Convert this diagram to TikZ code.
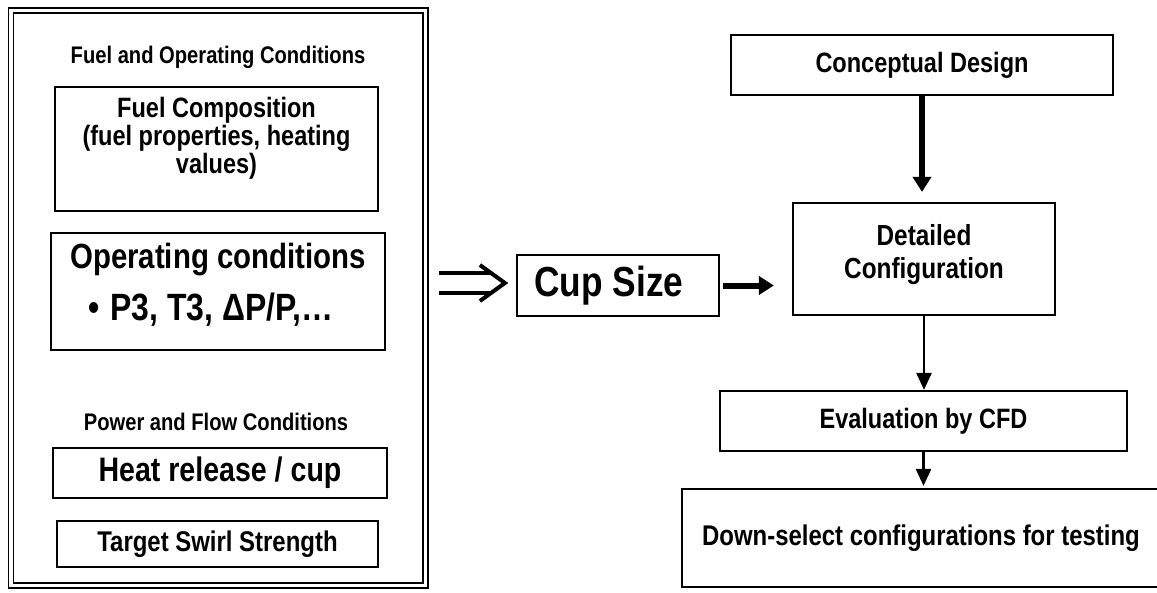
\documentclass[tikz,border=0pt]{standalone}
\usepackage{fontspec}
\setmainfont[FakeStretch=0.84,UprightFont={* Bold}]{Liberation Sans}
\usetikzlibrary{arrows.meta}

\begin{document}
\begin{tikzpicture}[x=1pt,y=-1pt]
\tikzstyle{box} = [draw, line width=2.2pt, inner sep=0pt, align=center]
\tikzstyle{heading} = [font=\fontsize{24}{26}\selectfont]
\tikzstyle{bigarrow} = [line width=6pt, -{Triangle[width=18pt,length=15pt]}]
\tikzstyle{thinarrow} = [line width=2.5pt, -{Triangle[width=15pt,length=17pt]}]
\useasboundingbox (0,0) rectangle (1157,592);

% left panel: inputs
\node[draw, line width=1.5pt, double, double distance=3.5pt,
      minimum width=414.5pt, minimum height=575pt] (panel) at (218.25,298) {};
\node[heading] (fuelhead) at (218,57) {Fuel and Operating Conditions};
\node[box, minimum width=323pt, minimum height=124pt, text depth=28pt,
      font=\fontsize{28}{28}\selectfont] (fuelcomp) at (216.5,149)
    {Fuel Composition\\(fuel properties, heating\\values)};
\node[box, minimum width=334pt, minimum height=117pt, text depth=20pt,
      font=\fontsize{35}{52}\selectfont] (opcond) at (218,291.5)
    {Operating conditions\\{\fontsize{38}{52}\selectfont •\hspace{11pt}P3, T3, ΔP/P,…\hspace*{14pt}}};
\node[heading] (powerhead) at (216,422) {Power and Flow Conditions};
\node[box, minimum width=334pt, minimum height=50pt,
      font=\fontsize{34}{36}\selectfont] (heat) at (220,473) {Heat release / cup};
\node[box, minimum width=321pt, minimum height=46pt,
      font=\fontsize{28.5}{30}\selectfont] (swirl) at (217.5,544) {Target Swirl Strength};

% right side: design flow
\node[box, minimum width=202pt, minimum height=61pt,
      font=\fontsize{42}{44}\selectfont] (cup) at (618,285.5) {Cup Size\hspace*{18pt}};
\node[box, minimum width=382pt, minimum height=60pt,
      font=\fontsize{28}{30}\selectfont] (concept) at (922,65) {Conceptual Design};
\node[box, minimum width=262pt, minimum height=112pt, text depth=16pt,
      font=\fontsize{29}{33}\selectfont] (detail) at (924,259) {Detailed\\Configuration};
\node[box, minimum width=407pt, minimum height=60pt,
      font=\fontsize{28}{30}\selectfont] (eval) at (923.5,421) {Evaluation by CFD};
\node[box, minimum width=478pt, minimum height=98pt,
      font=\fontsize{28.5}{31}\selectfont] (downsel) at (921,538)
    {Down-select configurations for testing};

% implies sign
\coordinate (imptip) at ([xshift=-11pt,yshift=2.5pt]cup.west);
\draw[line width=4pt] ([xshift=-66pt,yshift=10pt]imptip) -- ([xshift=-14pt,yshift=10pt]imptip)
    ([xshift=-66pt,yshift=-10pt]imptip) -- ([xshift=-14pt,yshift=-10pt]imptip);
\draw[line width=4pt] ([xshift=-25pt,yshift=18pt]imptip) -- (imptip) -- ([xshift=-25pt,yshift=-18pt]imptip);

\draw[bigarrow, shorten >=10pt] (concept) -- (concept.south |- detail.north);
\draw[bigarrow, shorten <=3pt, shorten >=18pt] (cup.east) -- (cup.east -| detail.west);
\draw[thinarrow] (detail.south) -- (detail.south |- eval.north);
\draw[thinarrow, shorten >=2pt] (eval.south) -- (eval.south |- downsel.north);
\end{tikzpicture}
\end{document}
